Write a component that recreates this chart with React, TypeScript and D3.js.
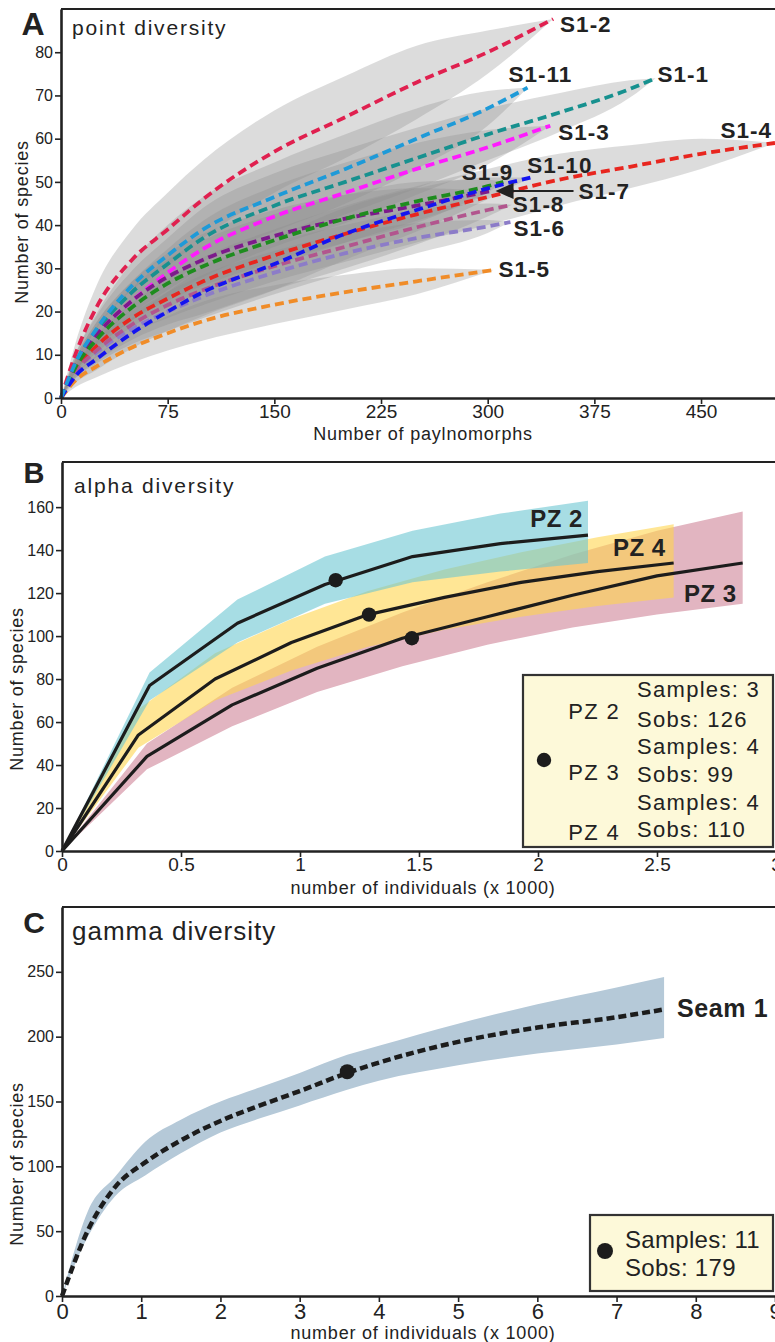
import React, { useEffect, useRef } from 'react'
import * as d3 from 'd3'

const FONT = "'Liberation Sans', Arial, Helvetica, sans-serif"
const INK = '#222222'

// ---------- A: point diversity (x = palynomorphs counted, y = species) ----------
const s1_1_n = [0, 10, 25, 50, 75, 100, 150, 200, 250, 300, 350, 400, 418]
const s1_1_s = [0, 8, 15.5, 24.5, 31, 37, 44.5, 50, 55.5, 61, 66, 71.5, 74]
const s1_1_ci = [0, 2, 3.5, 5, 6, 7, 7.5, 7.5, 7, 6, 4.5, 2, 0]

const s1_2_n = [0, 10, 25, 50, 75, 100, 150, 200, 250, 300, 346]
const s1_2_s = [0, 10, 21, 32, 39, 46, 57, 65, 73, 80, 87.7]
const s1_2_ci = [0, 2.5, 5, 7, 8.5, 9, 9.5, 9.5, 8.5, 5, 0]

const s1_3_n = [0, 10, 25, 50, 75, 100, 150, 200, 250, 300, 344]
const s1_3_s = [0, 7.5, 14.5, 22.5, 29, 34.5, 42, 47.5, 53, 58, 63]
const s1_3_ci = [0, 1.5, 3, 4.5, 5.5, 6.5, 7, 7, 6, 4, 0]

const s1_4_n = [0, 10, 25, 50, 75, 100, 150, 200, 250, 300, 350, 400, 450, 502]
const s1_4_s = [0, 6.5, 12, 18.5, 23, 27, 33, 38, 42.5, 46.5, 50.5, 53.5, 56.5, 59]
const s1_4_ci = [0, 1.5, 2.5, 3.5, 4.5, 5.5, 6, 6.5, 6.5, 6.5, 6, 5, 3.5, 0]

const s1_5_n = [0, 10, 25, 50, 75, 100, 150, 200, 250, 304]
const s1_5_s = [0, 4, 7.3, 11.7, 15, 17.8, 21.6, 24.5, 27, 29.6]
const s1_5_ci = [0, 1.5, 2.5, 3.5, 4, 4.5, 4.5, 4, 3, 0]

const s1_6_n = [0, 10, 25, 50, 75, 100, 150, 200, 250, 300, 316]
const s1_6_s = [0, 6, 10.5, 16, 20, 23.5, 29, 33.5, 37, 39.7, 40.7]
const s1_6_ci = [0, 1.5, 2.5, 3.5, 4.5, 5, 5, 4.5, 3.5, 1.5, 0]

const s1_7_n = [0, 10, 25, 50, 75, 100, 150, 200, 250, 302]
const s1_7_s = [0, 7.5, 14.5, 22.5, 28, 32, 37.5, 41.5, 44.5, 47.9]
const s1_7_ci = [0, 1.5, 3, 4.5, 5.5, 6, 6, 5.5, 4, 0]

const s1_8_n = [0, 10, 25, 50, 75, 100, 150, 200, 250, 300, 317]
const s1_8_s = [0, 6, 11, 17, 21.5, 25, 30.5, 35, 39.5, 43.5, 44.7]
const s1_8_ci = [0, 1.5, 2.5, 3.5, 4.5, 5.5, 5.5, 5, 4, 1.5, 0]

const s1_9_n = [0, 10, 25, 50, 75, 100, 150, 200, 250, 300, 311]
const s1_9_s = [0, 7, 13.5, 21, 26.5, 30.5, 36.5, 41.5, 45.5, 49, 50]
const s1_9_ci = [0, 1.5, 3, 4.5, 5.5, 6, 6, 5.5, 4.5, 1.5, 0]

const s1_10_n = [0, 10, 25, 50, 75, 100, 150, 200, 250, 300, 330]
const s1_10_s = [0, 5, 9, 15, 20, 24.5, 31, 38, 43.5, 48.5, 51]
const s1_10_ci = [0, 1.5, 2.5, 3.5, 4.5, 5.5, 6, 6, 5, 2.5, 0]

const s1_11_n = [0, 10, 25, 50, 75, 100, 150, 200, 250, 300, 328]
const s1_11_s = [0, 8, 16, 26, 33, 39, 46.5, 53, 60, 67, 71.8]
const s1_11_ci = [0, 2, 3.5, 5.5, 7, 7.5, 8, 8, 7, 4, 0]

const samplesA = ['S1-1', 'S1-2', 'S1-3', 'S1-4', 'S1-5', 'S1-6', 'S1-7', 'S1-8', 'S1-9', 'S1-10', 'S1-11']
const nA = [s1_1_n, s1_2_n, s1_3_n, s1_4_n, s1_5_n, s1_6_n, s1_7_n, s1_8_n, s1_9_n, s1_10_n, s1_11_n]
const sA = [s1_1_s, s1_2_s, s1_3_s, s1_4_s, s1_5_s, s1_6_s, s1_7_s, s1_8_s, s1_9_s, s1_10_s, s1_11_s]
const ciA = [s1_1_ci, s1_2_ci, s1_3_ci, s1_4_ci, s1_5_ci, s1_6_ci, s1_7_ci, s1_8_ci, s1_9_ci, s1_10_ci, s1_11_ci]
const colorsA = ['#17918f', '#e0204f', '#ff1aff', '#e8261f', '#f08c28', '#8c7cc8', '#7d1a8c', '#b2558e', '#1e8c1e', '#1414f0', '#1e9ad8']
const ticksAx = [0, 75, 150, 225, 300, 375, 450]
const ticksAy = [0, 10, 20, 30, 40, 50, 60, 70, 80]

// ---------- B: alpha diversity (per pollen zone) ----------
const pz2_x = [0, 0.368, 0.737, 1.105, 1.473, 1.842, 2.21]
const pz2_s = [0, 77, 106, 124, 137, 143, 147]
const pz2_lo = [0, 70, 97, 115, 125, 130, 134]
const pz2_hi = [0, 83, 117, 137, 149, 157, 163]

const pz3_x = [0, 0.357, 0.715, 1.072, 1.43, 1.787, 2.145, 2.5, 2.86]
const pz3_s = [0, 44, 68, 85, 99, 109, 119, 128, 134]
const pz3_lo = [0, 38, 58, 74, 86, 96, 104, 110, 115]
const pz3_hi = [0, 50, 76, 95, 111, 125, 138, 149, 158]

const pz4_x = [0, 0.321, 0.643, 0.964, 1.286, 1.607, 1.929, 2.25, 2.57]
const pz4_s = [0, 54, 80, 97, 110, 118, 125, 130, 134]
const pz4_lo = [0, 48, 70, 84, 95, 103, 109, 114, 118]
const pz4_hi = [0, 66, 92, 108, 121, 131, 139, 146, 152]

const zonesB = ['PZ 2', 'PZ 3', 'PZ 4']
const obsB_x = [1.15, 1.47, 1.29]
const obsB_s = [126, 99, 110]
const samplesB = [3, 4, 4]
const sobsB = [126, 99, 110]
const ticksBx = [0, 0.5, 1, 1.5, 2, 2.5, 3]
const ticksBy = [0, 20, 40, 60, 80, 100, 120, 140, 160]

// ---------- C: gamma diversity (whole seam) ----------
const seam_x = [0, 0.33, 0.67, 1.05, 1.5, 2, 2.5, 3, 3.6, 4, 5, 6, 7, 7.6]
const seam_s = [0, 51, 84, 103, 120, 135, 147, 158, 172, 180, 196, 207, 215, 221]
const seam_lo = [0, 46, 77, 93, 110, 126, 137, 147, 159, 166, 178, 187, 194, 199]
const seam_hi = [0, 66, 92, 119, 136, 150, 161, 172, 186, 193, 210, 225, 238, 246]
const obsC_x = 3.6
const obsC_s = 173
const samplesC = 11
const sobsC = 179
const ticksCx = [0, 1, 2, 3, 4, 5, 6, 7, 8, 9]
const ticksCy = [0, 50, 100, 150, 200, 250]

function Axis({ scale, orient, y = 0, x = 0, values, size, fmt }: any) {
  const ref = useRef<SVGGElement>(null)
  useEffect(() => {
    const ax = orient === 'left' ? d3.axisLeft(scale) : d3.axisBottom(scale)
    ax.tickValues(values).tickSizeOuter(0).tickSizeInner(6).tickPadding(orient === 'left' ? 2 : 1)
    if (fmt) ax.tickFormat(fmt)
    const g = d3.select(ref.current)
    g.call(ax as any)
    g.attr('font-family', FONT)
    g.select('.domain').attr('stroke', INK).attr('stroke-width', 2.6)
    g.selectAll('.tick line').attr('stroke', INK).attr('stroke-width', 1.6)
    g.selectAll('.tick text').attr('font-size', size).attr('fill', INK)
  })
  return <g ref={ref} transform={`translate(${x},${y})`} />
}

const Txt = ({ x, y, size, children, anchor = 'start', weight = 400, ls = 0, rotate }: any) => (
  <text x={x} y={y} fontSize={size} fontFamily={FONT} fill={INK} textAnchor={anchor}
    fontWeight={weight} letterSpacing={ls} transform={rotate ? `rotate(${rotate},${x},${y})` : undefined}>{children}</text>
)

// label offsets from each curve end (pixels)
const labelOffA: any = {
  'S1-1': [2, 4, 'start'], 'S1-2': [7, 13, 'start'], 'S1-3': [8, 14, 'start'], 'S1-4': [-3, -5, 'end'],
  'S1-5': [5, 7, 'start'], 'S1-6': [3, 14, 'start'], 'S1-7': [88, 8, 'start'], 'S1-8': [1, 7, 'start'],
  'S1-9': [10, -2, 'end'], 'S1-10': [-3, -5, 'start'], 'S1-11': [-19, -6, 'start'],
}

function PanelA() {
  const x = d3.scaleLinear().domain([0, 502]).range([61, 775])
  const y = d3.scaleLinear().domain([0, 90]).range([398, 9])
  const curves = samplesA.map((id, i) => ({ id, color: colorsA[i], pts: nA[i].map((n, j) => ({ n, s: sA[i][j], ci: ciA[i][j] })) }))
  const band = d3.area<any>().x(d => x(d.n)).y0(d => y(Math.max(0, d.s - d.ci))).y1(d => y(d.s + d.ci)).curve(d3.curveMonotoneX)
  const ln = d3.line<any>().x(d => x(d.n)).y(d => y(d.s)).curve(d3.curveMonotoneX)
  return (
    <g>
      {curves.map(c => <path key={c.id + 'b'} d={band(c.pts) || ''} fill="#8c8c8c" fillOpacity={0.3} />)}
      {curves.map(c => <path key={c.id} d={ln(c.pts) || ''} fill="none" stroke={c.color} strokeWidth={3.8} strokeDasharray="9 5" />)}
      {curves.map(c => {
        const e = c.pts[c.pts.length - 1]
        const [dx, dy, anchor] = labelOffA[c.id]
        return <Txt key={c.id + 'l'} x={x(e.n) + dx} y={y(e.s) + dy} size={22.5} weight={700} ls={1} anchor={anchor}>{c.id}</Txt>
      })}
      {(() => {
        const e = curves[6].pts[curves[6].pts.length - 1]
        const ex = x(e.n), ey = y(e.s)
        return <g>
          <line x1={ex + 20} x2={ex + 83} y1={ey} y2={ey} stroke={INK} strokeWidth={2} />
          <path d={`M${ex + 5},${ey} L${ex + 23},${ey - 8} L${ex + 23},${ey + 8} Z`} fill={INK} />
        </g>
      })()}
      <line x1={61} x2={775} y1={9} y2={9} stroke={INK} strokeWidth={2} />
      <Axis scale={x} orient="bottom" y={398} values={ticksAx} size={19} />
      <Axis scale={y} orient="left" x={61} values={ticksAy} size={16} />
      <Txt x={33} y={35} size={32} weight={700} anchor="middle">A</Txt>
      <Txt x={72} y={35} size={21} ls={1.8}>point diversity</Txt>
      <Txt x={423} y={440} size={18} ls={0.8} anchor="middle">Number of paylnomorphs</Txt>
      <Txt x={28} y={222} size={18} ls={0.8} anchor="middle" rotate={-90}>Number of species</Txt>
    </g>
  )
}

function PanelB() {
  const x = d3.scaleLinear().domain([0, 3]).range([62, 776])
  const y = d3.scaleLinear().domain([0, 181]).range([851, 462])
  const zx = [pz2_x, pz3_x, pz4_x], zs = [pz2_s, pz3_s, pz4_s], zlo = [pz2_lo, pz3_lo, pz4_lo], zhi = [pz2_hi, pz3_hi, pz4_hi]
  const zones = zonesB.map((id, i) => ({ id, pts: zx[i].map((v, j) => ({ v, s: zs[i][j], lo: zlo[i][j], hi: zhi[i][j] })) }))
  const band = d3.area<any>().x(d => x(d.v)).y0(d => y(d.lo)).y1(d => y(d.hi))
  const ln = d3.line<any>().x(d => x(d.v)).y(d => y(d.s))
  const fills: any = { 'PZ 2': ['#6cc6d2', 0.6], 'PZ 3': ['#e2b5c1', 1], 'PZ 4': ['#ffd54f', 0.6] }
  const order = [1, 2, 0]
  const labOff: any = { 'PZ 2': [-5, -8], 'PZ 3': [-6, 39], 'PZ 4': [-8, -7] }
  return (
    <g>
      {order.map(i => <path key={zones[i].id + 'b'} d={band(zones[i].pts) || ''} fill={fills[zones[i].id][0]} fillOpacity={fills[zones[i].id][1]} />)}
      {zones.map(z => <path key={z.id} d={ln(z.pts) || ''} fill="none" stroke="#1c1c1c" strokeWidth={3.2} strokeLinejoin="round" />)}
      {zones.map((z, i) => <circle key={z.id + 'o'} cx={x(obsB_x[i])} cy={y(obsB_s[i])} r={7.2} fill="#1c1c1c" />)}
      {zones.map(z => {
        const e = z.pts[z.pts.length - 1]
        return <Txt key={z.id + 'l'} x={x(e.v) + labOff[z.id][0]} y={y(e.s) + labOff[z.id][1]} size={24} weight={700} ls={0.5} anchor="end">{z.id}</Txt>
      })}
      <line x1={62} x2={775} y1={462} y2={462} stroke={INK} strokeWidth={2} />
      <Axis scale={x} orient="bottom" y={851} values={ticksBx} size={19} fmt={d3.format('~g')} />
      <Axis scale={y} orient="left" x={62} values={ticksBy} size={16} />
      <Txt x={34} y={483} size={29} weight={700} anchor="middle">B</Txt>
      <Txt x={74} y={493} size={21} ls={1.8}>alpha diversity</Txt>
      <Txt x={423} y={894} size={18} ls={0.8} anchor="middle">number of individuals (x 1000)</Txt>
      <Txt x={23} y={689} size={18} ls={0.8} anchor="middle" rotate={-90}>Number of species</Txt>
      <g>
        <rect x={523} y={675} width={250} height={172} fill="#fdf9d9" stroke="#333" strokeWidth={2.2} />
        <circle cx={544} cy={760} r={7.2} fill="#1c1c1c" />
        {zonesB.map((id, i) => (
          <g key={id + 'leg'}>
            <Txt x={620} y={719 + i * 60.5} size={22} ls={1.3} anchor="end">{id}</Txt>
            <Txt x={637} y={697 + i * 56.5} size={22} ls={1.3}>{`Samples: ${samplesB[i]}`}</Txt>
            <Txt x={637} y={727 + i * 55} size={22} ls={1.3}>{`Sobs: ${sobsB[i]}`}</Txt>
          </g>
        ))}
      </g>
    </g>
  )
}

function PanelC() {
  const x = d3.scaleLinear().domain([0, 9]).range([62, 775])
  const y = d3.scaleLinear().domain([0, 300]).range([1296, 907])
  const pts = seam_x.map((v, i) => ({ v, s: seam_s[i], lo: seam_lo[i], hi: seam_hi[i] }))
  const band = d3.area<any>().x(d => x(d.v)).y0(d => y(d.lo)).y1(d => y(d.hi)).curve(d3.curveMonotoneX)
  const ln = d3.line<any>().x(d => x(d.v)).y(d => y(d.s)).curve(d3.curveMonotoneX)
  const e = pts[pts.length - 1]
  return (
    <g>
      <path d={band(pts) || ''} fill="#b5c9d8" />
      <path d={ln(pts) || ''} fill="none" stroke="#1c1c1c" strokeWidth={4.5} strokeDasharray="8 4" />
      <circle cx={x(obsC_x)} cy={y(obsC_s)} r={7.5} fill="#1c1c1c" />
      <Txt x={x(e.v) + 13} y={y(e.s) + 8} size={25} weight={700} ls={0.6}>Seam 1</Txt>
      <line x1={62} x2={775} y1={907} y2={907} stroke={INK} strokeWidth={2} />
      <Axis scale={x} orient="bottom" y={1296} values={ticksCx} size={22} />
      <Axis scale={y} orient="left" x={62} values={ticksCy} size={16} />
      <Txt x={34} y={933} size={30} weight={700} anchor="middle">C</Txt>
      <Txt x={72} y={940} size={26} ls={1}>gamma diversity</Txt>
      <Txt x={423} y={1339} size={18} ls={0.8} anchor="middle">number of individuals (x 1000)</Txt>
      <Txt x={23} y={1164} size={18} ls={0.8} anchor="middle" rotate={-90}>Number of species</Txt>
      <rect x={590} y={1215} width={183} height={76} fill="#fdf9d9" stroke="#333" strokeWidth={2.2} />
      <circle cx={605} cy={1251} r={8} fill="#1c1c1c" />
      <Txt x={625} y={1248} size={24} ls={0.3}>{`Samples: ${samplesC}`}</Txt>
      <Txt x={625} y={1276} size={24} ls={0.3}>{`Sobs: ${sobsC}`}</Txt>
    </g>
  )
}

export default function App() {
  return (
    <svg width={775} height={1342} style={{ position: 'absolute', left: 0, top: 0, background: '#fff' }}>
      <rect width={775} height={1342} fill="#fff" />
      <PanelA />
      <PanelB />
      <PanelC />
    </svg>
  )
}
